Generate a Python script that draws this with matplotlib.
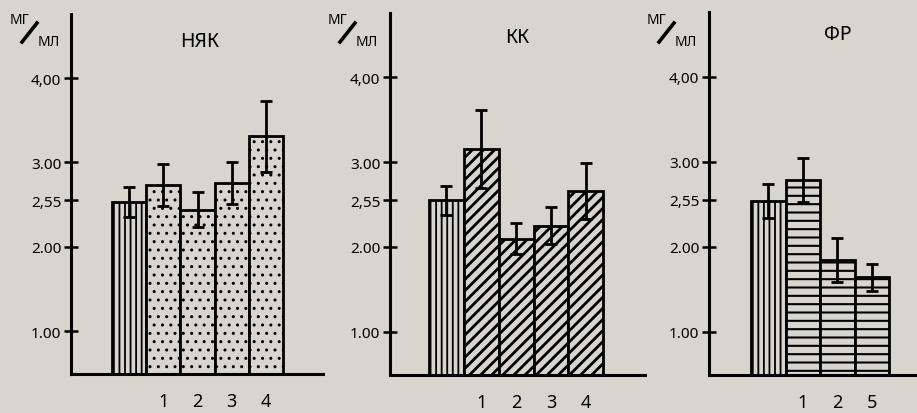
import matplotlib
matplotlib.use("Agg")
import matplotlib.pyplot as plt
from matplotlib.lines import Line2D

plt.rcParams['font.family'] = ['Noto Sans', 'DejaVu Sans']

# ---- data ----
ytick_vals = [1.00, 2.00, 2.55, 3.00, 4.00]
ytick_labels = ["1.00", "2.00", "2,55", "3.00", "4,00"]

nyak_title = "НЯК"
nyak_labels = ["", "1", "2", "3", "4"]
nyak_vals = [2.53, 2.73, 2.44, 2.76, 3.31]
nyak_err = [0.18, 0.25, 0.21, 0.25, 0.42]

kk_title = "КК"
kk_labels = ["", "1", "2", "3", "4"]
kk_vals = [2.55, 3.15, 2.10, 2.25, 2.66]
kk_err = [0.17, 0.46, 0.18, 0.22, 0.33]

fr_title = "ФР"
fr_labels = ["", "1", "2", "5"]
fr_vals = [2.54, 2.78, 1.84, 1.64]
fr_err = [0.20, 0.26, 0.26, 0.16]

BG = "#d8d5cf"
W, H = 917, 414
fig = plt.figure(figsize=(W / 100, H / 100), dpi=100, facecolor=BG)


def px_axes(left, right, top, bottom):
    return fig.add_axes([left / W, 1 - bottom / H, (right - left) / W, (bottom - top) / H])


def panel(ax, vals, errs, labels, hatch, hlw, xlim, title, title_xy, ux):
    ax.set_facecolor("none")
    xs = list(range(len(vals)))
    hatches = [("|||", 1.3)] + [(hatch, hlw)] * (len(vals) - 1)
    for x, v, (h, lw) in zip(xs, vals, hatches):
        with plt.rc_context({'hatch.linewidth': lw}):
            ax.bar(x, v, width=1.0, bottom=0, facecolor=BG, edgecolor="black",
                   linewidth=2.0, hatch=h, zorder=2)
    ax.errorbar(xs, vals, yerr=errs, fmt="none", ecolor="black", elinewidth=2.0,
                capsize=4, capthick=2.0, zorder=3)
    ax.set_xlim(*xlim)
    ax.set_ylim(0.49, 4.76)
    for s in ["top", "right"]:
        ax.spines[s].set_visible(False)
    for s in ["left", "bottom"]:
        ax.spines[s].set_linewidth(2.2)
    ax.set_yticks(ytick_vals)
    ax.set_yticklabels(ytick_labels, fontsize=11, fontweight="semibold")
    ax.tick_params(axis="y", direction="inout", length=10, width=1.8, pad=2)
    ax.set_xticks(xs[1:])
    ax.set_xticklabels(labels[1:], fontsize=13)
    ax.tick_params(axis="x", length=0, pad=13)
    fig.text(title_xy[0] / W, 1 - title_xy[1] / H, title, fontsize=14,
             fontweight="semibold", ha="center", va="center")
    fig.text(ux / W, 1 - 20 / H, "МГ", fontsize=10, fontweight="bold",
             ha="left", va="center")
    fig.add_artist(Line2D([(ux + 12) / W, (ux + 27) / W],
                          [1 - 43 / H, 1 - 24 / H],
                          color="black", linewidth=2.6))
    fig.text((ux + 28) / W, 1 - 42 / H, "МЛ", fontsize=10, fontweight="bold",
             ha="left", va="center")


ax1 = px_axes(71, 323, 15, 375)
panel(ax1, nyak_vals, nyak_err, nyak_labels, "..", 1.0, (-1.7, 5.67), nyak_title, (200, 42), 10)

ax2 = px_axes(390, 645, 14, 376)
panel(ax2, kk_vals, kk_err, kk_labels, "///", 2.0, (-1.62, 5.7), kk_title, (517, 38), 328)

ax3 = px_axes(709, 917, 13, 376)
panel(ax3, fr_vals, fr_err, fr_labels, "--", 1.5, (-1.72, 4.31), fr_title, (838, 35), 647)

fig.savefig("out.png", dpi=100, facecolor=BG)
